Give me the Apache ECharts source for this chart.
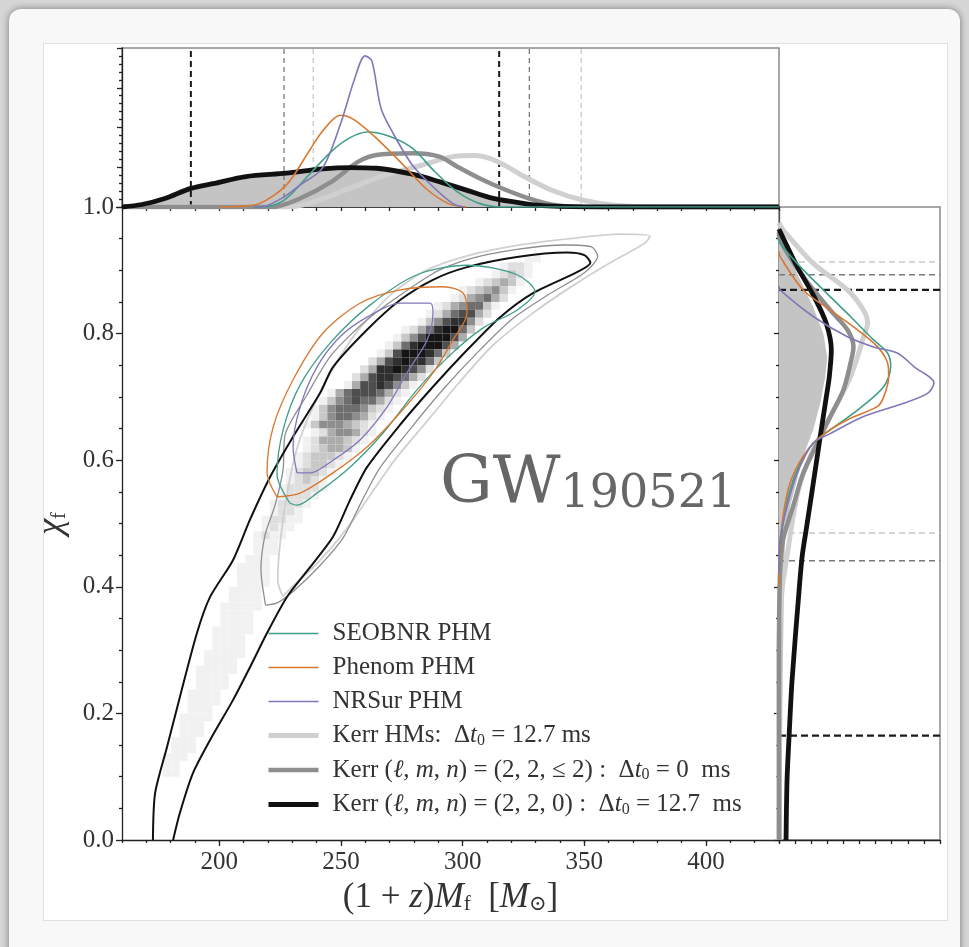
<!DOCTYPE html>
<html><head><meta charset="utf-8">
<script src="https://cdn.jsdelivr.net/npm/echarts@6/dist/echarts.min.js"></script>
<style>
html,body{margin:0;padding:0;width:969px;height:947px;overflow:hidden;background:#d6d6d6;}
#card{position:absolute;left:9px;top:9px;width:951px;height:980px;background:#f8f8f8;border-radius:12px;box-shadow:0 0 7px rgba(0,0,0,0.45);}
#panel{position:absolute;left:43px;top:43px;width:903px;height:876px;background:#fff;border:1px solid #e0e0e0;}
#chart{position:absolute;left:0;top:0;width:969px;height:947px;}
</style></head><body>
<div id="card"></div><div id="panel"></div><div id="chart"></div>
<script>
// ---------------- data ----------------
const massRange = [160, 430];
const spinRange = [0, 1];
const massTickValues = [200, 250, 300, 350, 400];
const spinTickValues = [0.0, 0.2, 0.4, 0.6, 0.8, 1.0];

// 2D histogram (grey cells): bins and rows [chiBinIndex, firstMassBinIndex, levels]
const mBin = 3.375, chiBin = 0.0125;
const heatRows = [
  [73,49,'11'],[72,46,'1221'],[71,45,'12321'],[70,43,'123431'],[69,41,'1234531'],
  [68,40,'1245642'],[67,38,'12456631'],[66,37,'12467742'],[65,36,'13578852'],
  [64,34,'124689963'],[63,33,'135799974'],[62,32,'136899974'],[61,31,'137999863'],
  [60,30,'247898863'],[59,29,'248898752'],[58,28,'247887642'],[57,27,'147787531'],
  [56,25,'1467776421'],[55,24,'1356766421'],[54,23,'1356665321'],[53,23,'135665421'],
  [52,22,'135554321'],[51,23,'12455421'],[50,22,'12444321'],[49,22,'1234431'],
  [48,21,'1233321'],[47,21,'123321'],[46,20,'123321'],[45,20,'12321'],
  [44,19,'122221'],[43,19,'12221'],[42,18,'12221'],[41,18,'1221'],[40,17,'12211'],
  [39,17,'1211'],[38,16,'1211'],[37,16,'111'],[36,16,'111'],[35,15,'111'],
  [34,14,'1111'],[33,14,'1111'],[32,14,'1111'],[31,13,'1111'],[30,13,'1111'],
  [29,12,'11111'],[28,12,'1111'],[27,12,'1111'],[26,11,'11111'],[25,11,'1111'],
  [24,11,'1111'],[23,10,'11111'],[22,10,'1111'],[21,9,'11111'],[20,9,'1111'],
  [19,9,'1111'],[18,8,'1111'],[17,8,'1111'],[16,8,'111'],[15,7,'1111'],
  [14,7,'111'],[13,7,'111'],[12,6,'111'],[11,6,'111'],[10,5,'111'],[9,5,'11'],[8,5,'11']
];

// 90% credible contours [mass, spin]
const contourK220 = [[172.7,0],[173.6,0.074],[178.5,0.147],[183.8,0.226],[190.8,0.327],[196.2,0.384],[205.6,0.442],[212.6,0.506],[220.8,0.573],[230.3,0.637],[241.4,0.706],[246.7,0.747],[260.7,0.806],[274.3,0.853],[287.8,0.885],[301.8,0.905],[322.3,0.921],[342.9,0.928],[350,0.924],[352.5,0.912],[347,0.897],[328.9,0.864],[315.4,0.826],[301.8,0.774],[287.8,0.716],[274.3,0.656],[260.7,0.589],[253.7,0.537],[246.7,0.479],[237.3,0.431],[227.8,0.384],[219.6,0.327],[212.6,0.273],[205.6,0.221],[196.2,0.158],[189.2,0.106],[183.8,0.043],[181.0,0]];
const contourK22n2 = [[219,0.371],[217.1,0.427],[218.8,0.482],[222.9,0.529],[226.2,0.585],[227,0.64],[236,0.703],[246,0.766],[262,0.826],[287.8,0.895],[301.8,0.917],[322.3,0.933],[342,0.94],[353,0.937],[355.5,0.922],[350,0.896],[335,0.861],[320,0.822],[306,0.77],[292,0.712],[279,0.652],[266,0.588],[258.5,0.535],[251,0.478],[241,0.432],[231,0.395],[224,0.375],[219,0.371]];
const contourHMs = [[226,0.385],[230,0.40],[241,0.44],[252,0.49],[262,0.545],[272,0.6],[285,0.66],[298,0.72],[312,0.78],[328,0.83],[345,0.875],[362,0.915],[375,0.943],[377,0.954],[364.7,0.957],[344.1,0.950],[323.6,0.940],[303,0.924],[285,0.9],[270,0.86],[256,0.8],[246,0.74],[238,0.68],[232,0.62],[228,0.55],[225,0.47],[224,0.41],[226,0.385]];
const contourSEOB = [[229.0,0.532],[223.7,0.577],[226.2,0.648],[233.2,0.719],[245.5,0.785],[261.9,0.845],[281.2,0.893],[301.8,0.908],[322.3,0.893],[329.7,0.866],[322.3,0.837],[308.4,0.809],[294.8,0.766],[281.2,0.711],[267.3,0.643],[253.7,0.589],[240.1,0.548],[231.9,0.529],[229.0,0.532]];
const contourPhenom = [[223.7,0.542],[219.6,0.580],[222.1,0.652],[230.3,0.727],[242.6,0.801],[257.8,0.848],[274.3,0.869],[291.9,0.874],[300.2,0.864],[301.8,0.833],[296.0,0.790],[287.8,0.738],[274.3,0.675],[260.7,0.621],[246.7,0.580],[233.2,0.548],[223.7,0.542]];
const contourNRSur = [[231.9,0.580],[230.3,0.621],[233.2,0.684],[240.1,0.747],[249.6,0.795],[260.7,0.826],[274.3,0.848],[286.6,0.848],[287.8,0.833],[285.4,0.790],[277.1,0.738],[268.9,0.684],[257.8,0.632],[246.7,0.600],[237.3,0.580],[231.9,0.580]];

// marginal on mass [mass, relative density]
const massK220 = [[160,0],[168.2,2.5],[177.6,8.6],[188.3,18.7],[198,23.8],[210.9,30.6],[227.5,34],[242.4,38.3],[253.4,39.7],[264.5,39],[279.3,33],[290.4,25.5],[301.5,17],[312.6,8.6],[325.5,3.5],[334.8,1.1],[356,0],[430,0]];
const massK22n2 = [[160,0],[222,0],[233.1,8.5],[246,25.3],[257.1,45.6],[264.5,52.4],[279.3,54],[290.4,50.7],[297.8,40.6],[307.1,28.7],[316.3,18.6],[327.4,8.5],[338.5,1.7],[350,0],[430,0]];
const massHMs = [[160,0],[228,0],[238.6,5],[253.4,18.6],[268.2,32],[283,42],[296,50.7],[305.2,51.7],[314.4,45.6],[325.5,30.4],[336.6,16.9],[349.6,6.8],[362.5,1.7],[381,0],[430,0]];
const massSEOB = [[215,0],[220.1,0.5],[227.5,8.5],[236.7,32],[246,55.8],[253.4,69.3],[260.8,75.4],[270.1,71],[279.3,59.2],[288.6,35.5],[297.8,15.2],[307.1,3.4],[316.3,0],[430,0]];
const massPhenom = [[200,0],[205.3,0.3],[216.4,3.4],[227.5,22],[236.8,55.8],[242.3,76],[249.7,92.3],[255.3,87.9],[264.5,69.3],[275.6,42.3],[284.9,18.6],[294.1,3.4],[301.5,0]];
const massNRSur = [[214,0],[218.3,0.5],[226.6,10.1],[233.1,22],[242.3,38.9],[249.7,82.8],[255.3,126.8],[259.9,152.1],[262.7,147],[266.4,99.7],[271,76],[279.3,42.3],[288.6,18.6],[296,3.4],[300.3,0]];

// marginal on spin [spin, relative density]
const spinFill = [[0.964,0],[0.895,18],[0.842,34],[0.800,44],[0.763,48],[0.732,46],[0.690,41],[0.648,34],[0.606,24],[0.569,18],[0.527,11],[0.474,6],[0.40,5],[0.30,4],[0.15,3],[0,3]];
const spinK220 = [[0.965,0],[0.958,2],[0.906,18],[0.858,35],[0.816,47],[0.774,52],[0.732,50],[0.700,47],[0.648,42],[0.595,37],[0.542,32],[0.490,27],[0.448,23],[0.395,20],[0.253,13],[0.163,10],[0.095,8],[0,7]];
const spinK22n2 = [[0.96,0],[0.948,1],[0.890,24],[0.837,51],[0.806,68],[0.779,74],[0.753,71],[0.711,64],[0.669,51],[0.627,38],[0.579,24],[0.527,14],[0.474,4],[0.42,1],[0.3,0],[0,0]];
const spinHMs = [[0.975,0],[0.964,4],[0.911,34],[0.869,68],[0.837,84],[0.816,88],[0.795,84],[0.763,78],[0.732,71],[0.690,58],[0.648,44],[0.606,31],[0.564,21],[0.511,14],[0.448,8],[0.395,3],[0.3,0],[0,0]];
const spinSEOB = [[0.95,0],[0.943,1],[0.911,18],[0.869,44],[0.827,71],[0.790,94],[0.769,108],[0.748,111],[0.716,104],[0.679,78],[0.648,51],[0.627,34],[0.595,21],[0.553,11],[0.500,4],[0.448,1],[0.4,0]];
const spinPhenom = [[0.93,0],[0.922,1],[0.869,24],[0.837,51],[0.806,78],[0.779,98],[0.753,108],[0.732,109],[0.700,104],[0.685,98],[0.664,68],[0.637,41],[0.606,24],[0.564,11],[0.511,4],[0.458,1],[0.4,0]];
const spinNRSur = [[0.875,0],[0.869,1],[0.827,34],[0.795,68],[0.779,94],[0.769,118],[0.748,134],[0.722,154],[0.706,148],[0.690,124],[0.669,84],[0.642,51],[0.627,34],[0.579,18],[0.527,8],[0.474,1],[0.42,0]];

// 90% credible bounds
const massCI_K220 = [188.3, 315.0];
const massCI_K22n2 = [226.6, 327.4];
const massCI_HMs = [238.6, 348.7];
const spinCI_K220 = [0.165, 0.869];
const spinCI_K22n2 = [0.441, 0.893];
const spinCI_HMs = [0.485, 0.913];

const seriesNames = ['SEOBNR PHM','Phenom PHM','NRSur PHM','Kerr HMs','Kerr (2,2,<=2)','Kerr (2,2,0)'];
const eventName = ['GW', '190521'];

// ---------------- styles ----------------
const SERIF = "'Liberation Serif','DejaVu Serif',serif";
const C_SEOB = '#3f9e89', C_PHEN = '#d8782f', C_NRS = '#7f78b8';
const C_HMS = '#d0d0d0', C_22 = '#8e8e8e', C_220 = '#111111';
const heatPalette = ['rgba(0,0,0,0)','#f1f1f1','#dfdfdf','#c8c8c8','#acacac','#8e8e8e','#6e6e6e','#4e4e4e','#2f2f2f','#151515'];

// ---------------- build ----------------
const heatData = [];
heatRows.forEach(function (r) {
  for (let j = 0; j < r[2].length; j++) {
    const lv = +r[2][j];
    if (lv > 0) heatData.push([massRange[0] + (r[1] + j) * mBin, r[0] * chiBin, lv]);
  }
});
const swap = a => a.map(p => [p[1], p[0]]);

function line(name, data, xi, yi, color, width, extra) {
  return Object.assign({
    type: 'line', name: name, data: data, xAxisIndex: xi, yAxisIndex: yi,
    symbol: 'none', showSymbol: false, smooth: 0.3, clip: true, silent: true,
    lineStyle: { color: color, width: width }, itemStyle: { color: color }, z: 5
  }, extra || {});
}
function vdash(x, color, width, dash) {
  return line('', [[x, 0], [x, 160]], 2, 1, color, width, { smooth: false, lineStyle: { color: color, width: width, type: dash }, z: 3 });
}
function hdash(y, color, width, dash) {
  return line('', [[0, y], [160, y]], 3, 2, color, width, { smooth: false, lineStyle: { color: color, width: width, type: dash }, z: 3 });
}

const series = [
  // top marginal (first -> legend icons)
  line(seriesNames[0], massSEOB, 2, 1, C_SEOB, 1.6, {z: 7}),
  line(seriesNames[1], massPhenom, 2, 1, C_PHEN, 1.6, {z: 7}),
  line(seriesNames[2], massNRSur, 2, 1, C_NRS, 1.6, {z: 7}),
  line(seriesNames[3], massHMs, 2, 1, C_HMS, 5, {z: 4}),
  line(seriesNames[4], massK22n2, 2, 1, C_22, 4.5, {z: 5}),
  line(seriesNames[5], massK220, 2, 1, C_220, 4.8, {z: 6}),
  line('fillTop', massK220, 2, 1, 'rgba(0,0,0,0)', 0, {z: 2, areaStyle: {color: '#c4c4c4', opacity: 1}}),
  vdash(massCI_K220[0], '#1a1a1a', 2, [6, 4]), vdash(massCI_K220[1], '#1a1a1a', 2, [6, 4]),
  vdash(massCI_K22n2[0], '#7a7a7a', 1.3, [5, 4]), vdash(massCI_K22n2[1], '#7a7a7a', 1.3, [5, 4]),
  vdash(massCI_HMs[0], '#c8c8c8', 1.3, [5, 4]), vdash(massCI_HMs[1], '#c8c8c8', 1.3, [5, 4]),
  // right marginal
  {
    type: 'custom', name: 'fillRight', xAxisIndex: 3, yAxisIndex: 2, silent: true, z: 2,
    data: swap(spinFill),
    renderItem: function (params, api) {
      if (params.dataIndex !== 0) return null;
      const pts = [api.coord([0, spinFill[0][0]])];
      spinFill.forEach(p => pts.push(api.coord([p[1], p[0]])));
      pts.push(api.coord([0, spinFill[spinFill.length - 1][0]]));
      return { type: 'polygon', shape: { points: pts }, style: { fill: '#c4c4c4' } };
    }
  },
  line(seriesNames[3], swap(spinHMs), 3, 2, C_HMS, 5, {z: 4}),
  line(seriesNames[4], swap(spinK22n2), 3, 2, C_22, 4.5, {z: 5}),
  line(seriesNames[5], swap(spinK220), 3, 2, C_220, 4.8, {z: 6}),
  line(seriesNames[0], swap(spinSEOB), 3, 2, C_SEOB, 1.6, {z: 7}),
  line(seriesNames[1], swap(spinPhenom), 3, 2, C_PHEN, 1.6, {z: 7}),
  line(seriesNames[2], swap(spinNRSur), 3, 2, C_NRS, 1.6, {z: 7}),
  hdash(spinCI_K220[0], '#1a1a1a', 2.2, [7, 4]), hdash(spinCI_K220[1], '#1a1a1a', 2.2, [7, 4]),
  hdash(spinCI_K22n2[0], '#7a7a7a', 1.5, [6, 4]), hdash(spinCI_K22n2[1], '#7a7a7a', 1.5, [6, 4]),
  hdash(spinCI_HMs[0], '#c8c8c8', 1.5, [6, 4]), hdash(spinCI_HMs[1], '#c8c8c8', 1.5, [6, 4]),
  // main panel
  {
    type: 'custom', name: 'hist2d', xAxisIndex: 0, yAxisIndex: 0, silent: true, z: 1, clip: true,
    data: heatData,
    renderItem: function (params, api) {
      const m = api.value(0), c = api.value(1), lv = api.value(2);
      const p0 = api.coord([m, c + chiBin]);
      const p1 = api.coord([m + mBin, c]);
      return { type: 'rect', shape: { x: p0[0], y: p0[1], width: p1[0] - p0[0], height: p1[1] - p0[1] },
               style: { fill: heatPalette[lv] } };
    }
  },
  line(seriesNames[3], contourHMs, 0, 0, C_HMS, 1.8, {z: 3, smooth: 0.25}),
  line(seriesNames[4], contourK22n2, 0, 0, C_22, 1.3, {z: 4, smooth: 0.25}),
  line(seriesNames[5], contourK220, 0, 0, C_220, 2, {z: 5, smooth: 0.25}),
  line(seriesNames[0], contourSEOB, 0, 0, C_SEOB, 1.3, {z: 6, smooth: 0.3}),
  line(seriesNames[1], contourPhenom, 0, 0, C_PHEN, 1.3, {z: 6, smooth: 0.3}),
  line(seriesNames[2], contourNRSur, 0, 0, C_NRS, 1.3, {z: 6, smooth: 0.3})
];

const richBase = {
  r: { fontFamily: SERIF, fontSize: 25, lineHeight: 26, color: '#333' },
  i: { fontFamily: SERIF, fontSize: 25, lineHeight: 26, color: '#333', fontStyle: 'italic' },
  s: { fontFamily: SERIF, fontSize: 16, lineHeight: 14, color: '#333', verticalAlign: 'bottom' }
};
const legendLabels = {};
legendLabels[seriesNames[0]] = '{r|SEOBNR PHM}';
legendLabels[seriesNames[1]] = '{r|Phenom PHM}';
legendLabels[seriesNames[2]] = '{r|NRSur PHM}';
legendLabels[seriesNames[3]] = '{r|Kerr HMs:  Δ}{i|t}{s|0}{r| = 12.7 ms}';
legendLabels[seriesNames[4]] = '{r|Kerr (}{i|ℓ}{r|, }{i|m}{r|, }{i|n}{r|) = (2, 2, ≤ 2) :  Δ}{i|t}{s|0}{r| = 0  ms}';
legendLabels[seriesNames[5]] = '{r|Kerr (}{i|ℓ}{r|, }{i|m}{r|, }{i|n}{r|) = (2, 2, 0) :  Δ}{i|t}{s|0}{r| = 12.7  ms}';

const axisDark = { color: '#222', width: 1.3 };
const option = {
  animation: false,
  backgroundColor: 'transparent',
  grid: [
    { left: 122, top: 207, width: 657, height: 633, show: false },
    { left: 122, top: 48, width: 657, height: 159, show: true, borderColor: '#8a8a8a', borderWidth: 1.5, backgroundColor: 'transparent' },
    { left: 779, top: 207, width: 161, height: 633, show: true, borderColor: '#8a8a8a', borderWidth: 1.5, backgroundColor: 'transparent' }
  ],
  xAxis: [
    { gridIndex: 0, type: 'value', min: massRange[0], max: massRange[1], position: 'bottom',
      axisLine: { show: true, onZero: false, lineStyle: axisDark },
      axisTick: { show: true, customValues: massTickValues, length: 6, lineStyle: axisDark },
      axisLabel: { show: true, customValues: massTickValues, margin: 10, fontFamily: SERIF, fontSize: 25, color: '#333' },
      splitLine: { show: false },
      name: '{r|(1 + }{i|z}{r|)}{i|M}{s|f}{r|  [}{i|M}{s|⊙}{r|]}', nameLocation: 'middle', nameGap: 39,
      nameTextStyle: { rich: {
        r: { fontFamily: SERIF, fontSize: 35, lineHeight: 36, color: '#333' },
        i: { fontFamily: SERIF, fontSize: 35, lineHeight: 36, color: '#333', fontStyle: 'italic' },
        s: { fontFamily: SERIF, fontSize: 21, lineHeight: 18, color: '#333', verticalAlign: 'bottom' } } } },
    { gridIndex: 0, type: 'value', min: massRange[0], max: massRange[1], interval: 10, position: 'bottom',
      axisLine: { show: false, onZero: false }, axisTick: { show: true, length: 3, lineStyle: axisDark },
      axisLabel: { show: false }, splitLine: { show: false } },
    { gridIndex: 1, type: 'value', min: massRange[0], max: massRange[1], interval: 10, position: 'bottom',
      axisLine: { show: true, onZero: false, lineStyle: { color: '#222', width: 1.6 } },
      axisTick: { show: true, length: 4, lineStyle: axisDark }, axisLabel: { show: false }, splitLine: { show: false } },
    { gridIndex: 2, type: 'value', min: 0, max: 160, interval: 16, position: 'bottom',
      axisLine: { show: true, onZero: false, lineStyle: axisDark },
      axisTick: { show: true, length: 4, lineStyle: axisDark }, axisLabel: { show: false }, splitLine: { show: false } }
  ],
  yAxis: [
    { gridIndex: 0, type: 'value', min: spinRange[0], max: spinRange[1], interval: 0.2,
      axisLine: { show: true, onZero: false, lineStyle: axisDark },
      axisTick: { show: true, length: 6, lineStyle: axisDark },
      minorTick: { show: true, splitNumber: 4, length: 3, lineStyle: axisDark },
      axisLabel: { show: true, margin: 8, fontFamily: SERIF, fontSize: 25, color: '#333',
        formatter: v => spinTickValues.find(t => Math.abs(t - v) < 1e-6).toFixed(1) },
      splitLine: { show: false }, minorSplitLine: { show: false },
      name: '{i|χ}{s|f}', nameLocation: 'middle', nameGap: 52, nameRotate: 90,
      nameTextStyle: { rich: {
        i: { fontFamily: SERIF, fontSize: 36, lineHeight: 36, color: '#333', fontStyle: 'italic' },
        s: { fontFamily: SERIF, fontSize: 20, lineHeight: 22, color: '#333', verticalAlign: 'bottom' } } } },
    { gridIndex: 1, type: 'value', min: 0, max: 160, interval: 40,
      axisLine: { show: true, onZero: false, lineStyle: axisDark },
      axisTick: { show: true, length: 5, lineStyle: axisDark },
      minorTick: { show: true, splitNumber: 5, length: 3, lineStyle: axisDark },
      axisLabel: { show: false }, splitLine: { show: false }, minorSplitLine: { show: false } },
    { gridIndex: 2, type: 'value', min: spinRange[0], max: spinRange[1], interval: 0.2,
      axisLine: { show: true, onZero: false, lineStyle: { color: '#555', width: 1.3 } },
      axisTick: { show: true, length: 5, lineStyle: axisDark },
      minorTick: { show: true, splitNumber: 4, length: 3, lineStyle: axisDark },
      axisLabel: { show: false }, splitLine: { show: false }, minorSplitLine: { show: false } }
  ],
  legend: {
    data: seriesNames, orient: 'vertical', left: 266, top: 621, padding: 0,
    itemWidth: 50, itemHeight: 14, itemGap: 9, selectedMode: false,
    lineStyle: { width: 'inherit' },
    itemStyle: { opacity: 0, borderWidth: 0 },
    formatter: name => legendLabels[name],
    textStyle: { padding: [0, 0, 0, 9], rich: richBase }
  },
  graphic: [{
    type: 'text', left: 440, top: 452, z: 20,
    style: { text: '{a|' + eventName[0] + '}{b|' + eventName[1] + '}',
      rich: { a: { fontFamily: 'DejaVu Serif', fontSize: 66, fill: '#666', lineHeight: 74, verticalAlign: 'bottom' },
              b: { fontFamily: 'DejaVu Serif', fontSize: 46, fill: '#666', lineHeight: 62, verticalAlign: 'bottom' } } }
  }],
  series: series
};
const chart = echarts.init(document.getElementById('chart'));
chart.setOption(option);
</script></body></html>
